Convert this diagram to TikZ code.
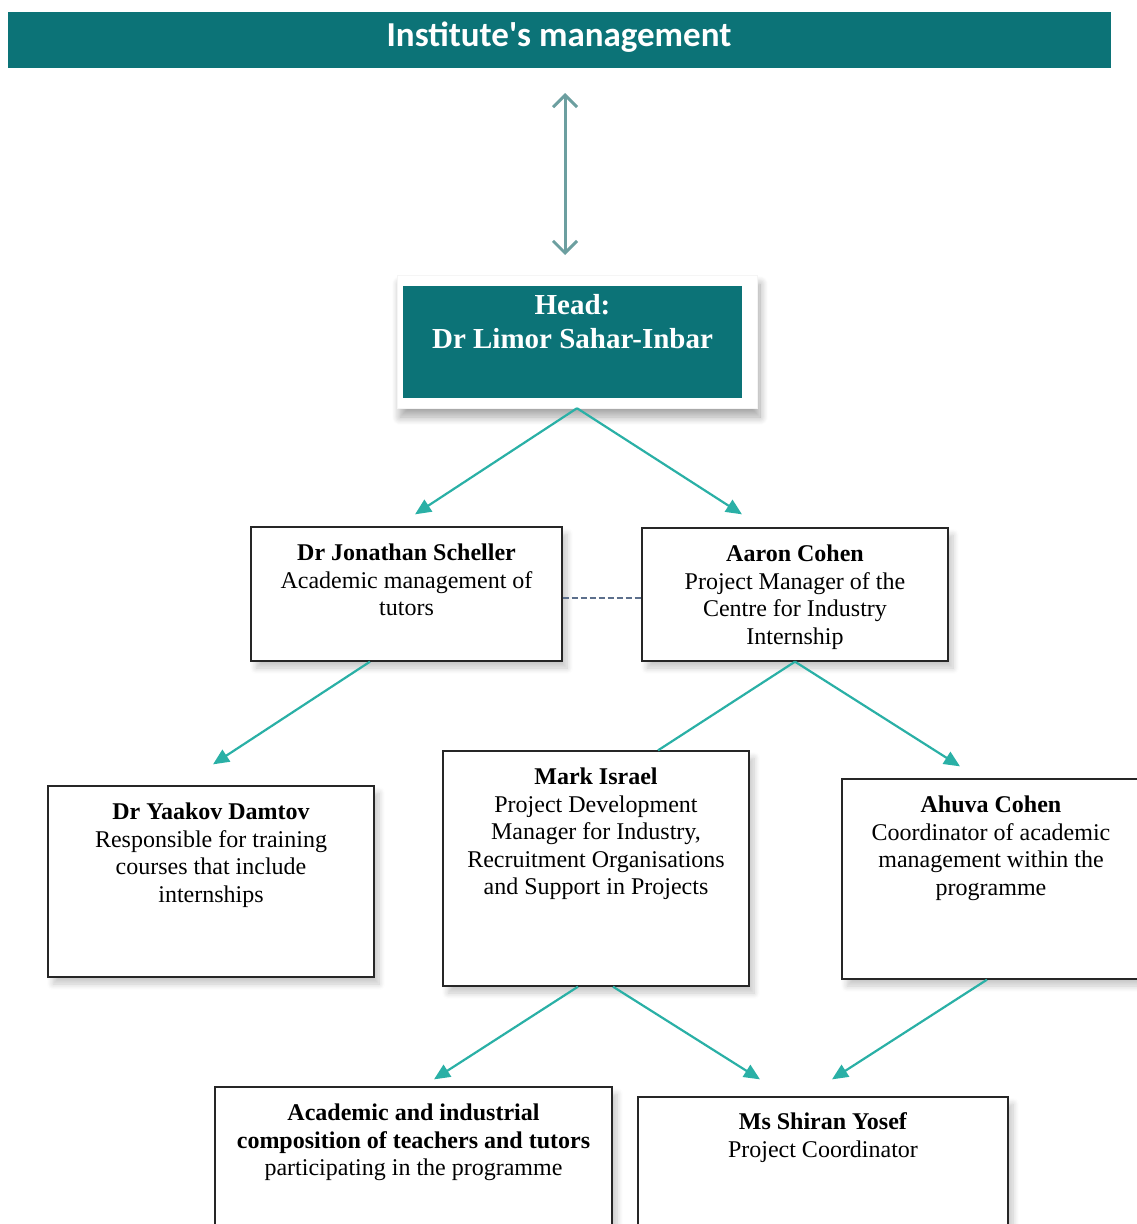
\documentclass[tikz,border=0pt]{standalone}
\usepackage{fontspec}
\setmainfont{Liberation Serif}
\newfontfamily\bannerfont{Carlito}
\usetikzlibrary{arrows.meta,shadows.blur,calc}
\definecolor{tealA}{HTML}{0C7377}
\definecolor{connC}{HTML}{2AB0A6}
\definecolor{dblC}{HTML}{6C9FA0}
\definecolor{dashC}{HTML}{5C6F8C}
\definecolor{shadC}{HTML}{50607A}
\begin{document}
\begin{tikzpicture}[x=1pt,y=-1pt,
  box/.style={draw=black!85, line width=1.3pt, fill=white, rectangle, inner sep=0pt,
    blur shadow={shadow xshift=5pt, shadow yshift=-7pt, shadow blur radius=6pt, shadow opacity=22, shadow blur steps=8}},
  txt/.style={anchor=north, inner sep=0pt, align=center, font=\fontsize{24}{27.5}\selectfont},
  connector/.style={draw=connC, line width=2.2pt, -{Triangle[length=16pt,width=14pt]}},
  plainconn/.style={draw=connC, line width=2.2pt},
]
\useasboundingbox (0,0) rectangle (1137,1224);

% banner
\node[fill=tealA, minimum width=1103pt, minimum height=56pt, inner sep=0pt] (banner) at (559.5,40) {};
\node[anchor=base, inner sep=0pt, text=white, font=\bannerfont\bfseries\fontsize{35}{40}\selectfont] (bannertxt) at (559,46) {Institute's management};

% double arrow
\coordinate (dtop) at (565,93);
\coordinate (dbot) at (565,255);
\draw[dblC, line width=3pt, {Straight Barb[length=12pt,width=24pt,line width=3pt]}-{Straight Barb[length=12pt,width=24pt,line width=3pt]}] (dtop) -- (dbot);

% head
\node[fill=white, draw=black!4, minimum width=360pt, minimum height=133pt, inner sep=0pt,
  blur shadow={shadow xshift=3pt, shadow yshift=-9pt, shadow blur radius=8pt, shadow opacity=35, shadow blur steps=10}] (hframe) at (577,341.5) {};
\node[fill=tealA, minimum width=339pt, minimum height=112pt, inner sep=0pt] (headbox) at (572.5,342) {};
\node[anchor=north, inner sep=0pt, align=center, text=white, font=\bfseries\fontsize{29}{34}\selectfont] (headtxt) at ($(headbox.north)+(0,5)$) {\strut Head:\\Dr Limor Sahar-Inbar};

% boxes
\node[box, minimum width=311pt, minimum height=134pt] (jon) at (406.5,594) {};
\node[box, minimum width=306pt, minimum height=133pt] (aaron) at (795,594.5) {};
\node[box, minimum width=326pt, minimum height=191pt] (yaakov) at (211,881.5) {};
\node[box, minimum width=306pt, minimum height=235pt] (mark) at (596,868.5) {};
\node[box, minimum width=298pt, minimum height=200pt] (ahuva) at (991,879) {};
\node[box, minimum width=397pt, minimum height=153pt] (acad) at (413.5,1163.5) {};
\node[box, minimum width=370pt, minimum height=143pt] (shiran) at (823,1168.5) {};

\node[txt] (jontxt) at ($(jon.north)+(0,15)$) {\strut\textbf{Dr Jonathan Scheller}\\Academic management of\\tutors};
\node[txt] (aarontxt) at ($(aaron.north)+(0,15)$) {\strut\textbf{Aaron Cohen}\\Project Manager of the\\Centre for Industry\\Internship};
\node[txt] (yaakovtxt) at ($(yaakov.north)+(0,15)$) {\strut\textbf{Dr Yaakov Damtov}\\Responsible for training\\courses that include\\internships};
\node[txt] (marktxt) at ($(mark.north)+(0,15)$) {\strut\textbf{Mark Israel}\\Project Development\\Manager for Industry,\\Recruitment Organisations\\and Support in Projects};
\node[txt] (ahuvatxt) at ($(ahuva.north)+(0,15)$) {\strut\textbf{Ahuva Cohen}\\Coordinator of academic\\management within the\\programme};
\node[txt] (acadtxt) at ($(acad.north)+(0,15)$) {\strut\textbf{Academic and industrial}\\\textbf{composition of teachers and tutors}\\participating in the programme};
\node[txt] (shirantxt) at ($(shiran.north)+(0,14)$) {\strut\textbf{Ms Shiran Yosef}\\Project Coordinator};

% connectors
\draw[connector] (hframe.south) -- ($(jon.north)+(8.5,-12)$);
\draw[connector] (hframe.south) -- ($(aaron.north)+(-53,-13)$);
\draw[dashC, line width=1.8pt, dash pattern=on 6pt off 3pt] ($(jon.east)+(0,4)$) -- ($(aaron.west)+(0,3.5)$);
\draw[connector] ($(jon.south)+(-36.5,0)$) -- ($(yaakov.north)+(2,-21)$);
\draw[plainconn] (aaron.south) -- ($(mark.north)+(62,0)$);
\draw[connector] (aaron.south) -- ($(ahuva.north)+(-31,-12)$);
\draw[connector] ($(mark.south)+(-18,0)$) -- ($(acad.north)+(20.5,-7)$);
\draw[connector] ($(mark.south)+(17,0)$) -- ($(shiran.north)+(-63,-17)$);
\draw[connector] ($(ahuva.south)+(-4,0)$) -- ($(shiran.north)+(9,-17)$);
\end{tikzpicture}
\end{document}
